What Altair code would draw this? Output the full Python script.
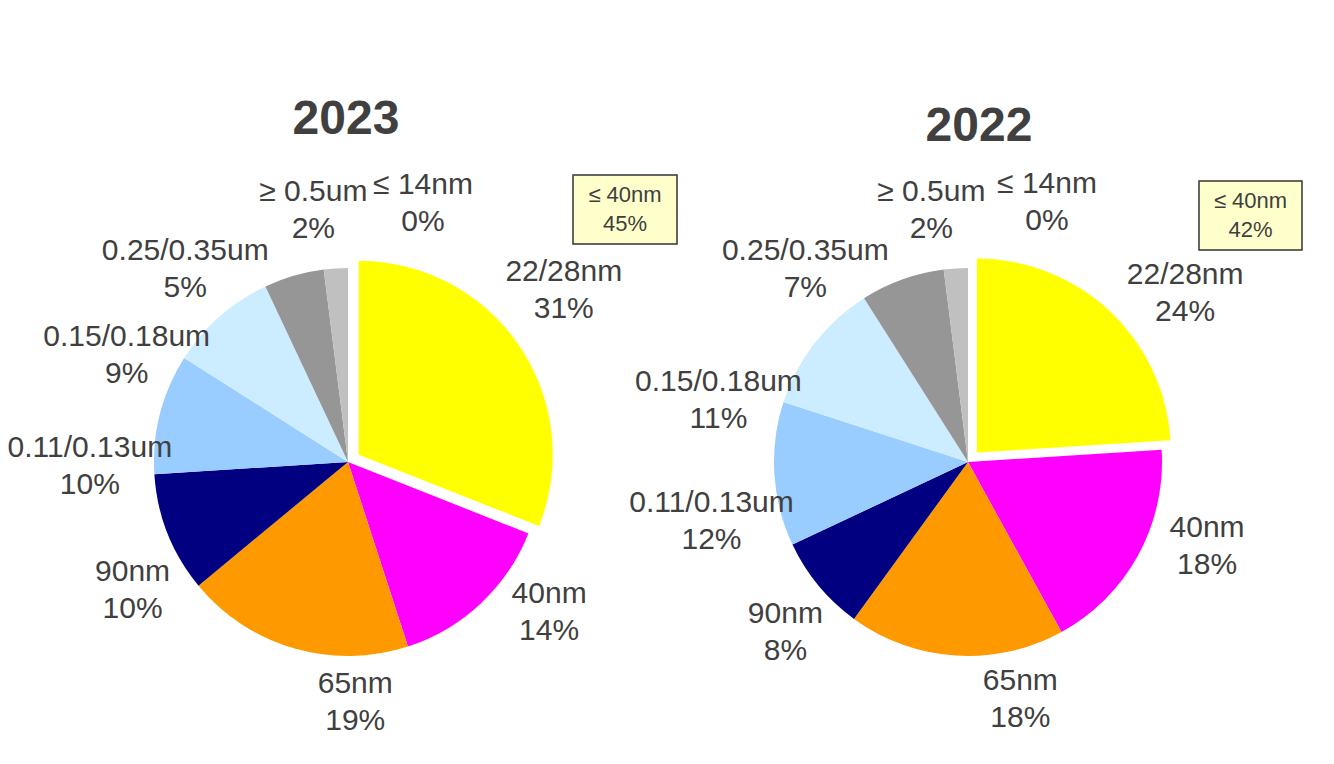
import math
import altair as alt
import pandas as pd

# ---------------- data ----------------
years = ["2023", "2022"]
categories = ["22/28nm", "40nm", "65nm", "90nm", "0.11/0.13um",
              "0.15/0.18um", "0.25/0.35um", "≥ 0.5um", "≤ 14nm"]
share_2023 = [31, 14, 19, 10, 10, 9, 5, 2, 0]
share_2022 = [24, 18, 18, 8, 12, 11, 7, 2, 0]
box_text = "≤ 40nm"
box_members = ["≤ 14nm", "22/28nm", "40nm"]

# ---------------- styles ----------------
colors = ["#FFFF00", "#FF00FF", "#FF9900", "#000080", "#99CCFF",
          "#CCECFF", "#969696", "#C0C0C0", "#808080"]
FONT = "Liberation Sans"
TXT = "#404040"
R_PIE = 194
R_LBL = 250
EXPLODE_CAT = "22/28nm"
EXPLODE = 13
LBL_SIZE = 30
LBL_LH = 37
BOX_SIZE = 22
BOX_LH = 29

layout = {
    "2023": {"center": (340, 454), "title": (338, 112), "box": (565, 167, 669, 236)},
    "2022": {"center": (960, 454), "title": (971, 119), "box": (1191, 173, 1294, 242)},
}
nudges = {
    "2023": {"22/28nm": (9, -31), "40nm": (30, -32), "65nm": (77, 0), "90nm": (17, 36),
             "0.11/0.13um": (-16, 67), "0.15/0.18um": (-56, 81), "0.25/0.35um": (-93, 48),
             "≥ 0.5um": (-19, -2), "≤ 14nm": (75, -9)},
    "2022": {"22/28nm": (46, 14), "40nm": (20, -36), "65nm": (68, -12), "90nm": (10, 11),
             "0.11/0.13um": (-7, 44), "0.15/0.18um": (-52, 92), "0.25/0.35um": (-78, 43),
             "≥ 0.5um": (-21, -2), "≤ 14nm": (79, -10)},
}

rows = []
for y, vals in zip(years, [share_2023, share_2022]):
    for i, (c, v) in enumerate(zip(categories, vals)):
        rows.append({"year": y, "category": c, "value": v, "order": i})
df = pd.DataFrame(rows)

theta_scale = alt.Scale(domain=[0, 100])
color_scale = alt.Scale(domain=categories, range=colors)

layers = []
for y, vals in zip(years, [share_2023, share_2022]):
    cx, cy = layout[y]["center"]
    base = (
        alt.Chart(df)
        .transform_filter(alt.datum.year == y)
        .transform_window(end="sum(value)", sort=[alt.SortField("order")], frame=[None, 0])
        .transform_calculate(
            start="datum.end - datum.value",
            mid="datum.end - datum.value / 2",
            label="datum.category + '\\n' + datum.value + '%'",
        )
    )
    # explode offset for the highlighted slice from its mid angle
    idx = categories.index(EXPLODE_CAT)
    mid = sum(vals[:idx]) + vals[idx] / 2
    ang = mid / 100 * 2 * math.pi
    ex, ey = EXPLODE * math.sin(ang), -EXPLODE * math.cos(ang)

    arc_enc = dict(
        theta=alt.Theta("start:Q", scale=theta_scale, stack=None),
        theta2="end:Q",
        color=alt.Color("category:N", scale=color_scale, legend=None),
    )
    layers.append(
        base.transform_filter(alt.datum.category != EXPLODE_CAT)
        .mark_arc(radius=R_PIE, strokeWidth=0)
        .encode(x=alt.value(cx), y=alt.value(cy), **arc_enc)
    )
    layers.append(
        base.transform_filter(alt.datum.category == EXPLODE_CAT)
        .mark_arc(radius=R_PIE, strokeWidth=0)
        .encode(x=alt.value(cx + ex), y=alt.value(cy + ey), **arc_enc)
    )
    for c in categories:
        dx, dy = nudges[y][c]
        layers.append(
            base.transform_filter(alt.datum.category == c)
            .mark_text(radius=R_LBL, dx=dx, dy=dy - LBL_LH / 2, font=FONT,
                       fontSize=LBL_SIZE, lineHeight=LBL_LH, lineBreak="\n",
                       color=TXT, align="center", baseline="middle")
            .encode(
                x=alt.value(cx), y=alt.value(cy),
                theta=alt.Theta("mid:Q", scale=theta_scale, stack=None),
                text="label:N",
            )
        )
    # title
    tx, ty = layout[y]["title"]
    layers.append(
        alt.Chart(df)
        .transform_filter(alt.datum.year == y)
        .transform_aggregate(groupby=["year"], n="count()")
        .mark_text(font=FONT, fontSize=48, fontWeight="bold", color=TXT,
                   align="center", baseline="middle")
        .encode(x=alt.value(tx), y=alt.value(ty), text="year:N")
    )
    # summary box
    x1, y1, x2, y2 = layout[y]["box"]
    box = (
        alt.Chart(df)
        .transform_filter(alt.datum.year == y)
        .transform_filter(alt.FieldOneOfPredicate(field="category", oneOf=box_members))
        .transform_aggregate(total="sum(value)")
        .transform_calculate(txt=f"'{box_text}\\n' + datum.total + '%'")
    )
    layers.append(
        box.mark_rect(fill="#FFFFCC", stroke="#333333", strokeWidth=1.5)
        .encode(x=alt.value(x1), x2=alt.value(x2), y=alt.value(y1), y2=alt.value(y2))
    )
    layers.append(
        box.mark_text(font=FONT, fontSize=BOX_SIZE, lineHeight=BOX_LH, lineBreak="\n",
                      dy=-BOX_LH / 2, color=TXT, align="center", baseline="middle")
        .encode(x=alt.value((x1 + x2) / 2), y=alt.value((y1 + y2) / 2), text="txt:N")
    )

chart = (
    alt.layer(*layers)
    .properties(width=1318, height=748,
                autosize=alt.AutoSizeParams(type="none"), padding=0)
    .configure_view(strokeWidth=0)
)
chart.save("out.html", embed_options={"renderer": "svg", "actions": False})
